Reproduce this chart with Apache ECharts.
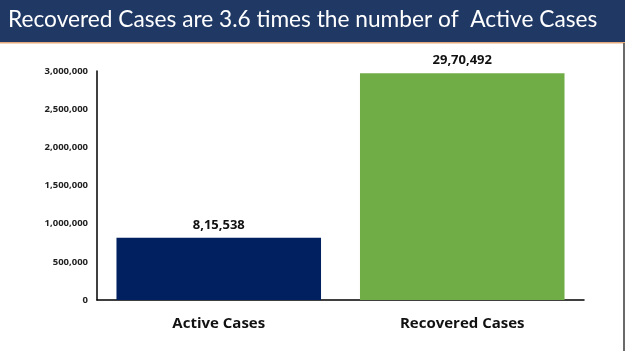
<!DOCTYPE html>
<html>
<head>
<meta charset="utf-8">
<script src="https://cdn.jsdelivr.net/npm/echarts@6/dist/echarts.min.js"></script>
<style>
  html, body { margin: 0; padding: 0; background: #fff; }
  #chart { width: 625px; height: 351px; }
</style>
</head>
<body>
<div id="chart"></div>
<script>
// 数据
const categories = ['Active Cases', 'Recovered Cases']
const caseValues = [815538, 2970492]
const valueLabels = ['8,15,538', '29,70,492']
const barColors = ['#002060', '#70ad47']
const titleText = 'Recovered Cases are 3.6 times the number of  Active Cases'

const myChart = echarts.init(document.getElementById('chart'))

myChart.setOption({
  animation: false,
  // 顶部标题栏
  graphic: [
    {
      type: 'rect',
      left: 0,
      top: 0,
      shape: { width: 625, height: 42 },
      style: { fill: '#1f3864' },
      z: 0
    },
    {
      type: 'rect',
      left: 0,
      top: 42,
      shape: { width: 625, height: 1.5 },
      style: { fill: '#e4a97a' },
      z: 0
    },
    {
      type: 'rect',
      left: 623,
      top: 43,
      shape: { width: 2, height: 308 },
      style: { fill: '#6a6a6a' },
      z: 0
    },
    {
      type: 'text',
      left: 8,
      top: 8,
      style: {
        text: titleText,
        fill: '#ffffff',
        font: '22.7px Lato, "Open Sans", sans-serif'
      },
      z: 1
    }
  ],
  grid: {
    left: 97,
    right: 41,
    top: 71,
    bottom: 51
  },
  xAxis: {
    type: 'category',
    data: categories,
    axisTick: { show: false },
    axisLine: { lineStyle: { color: '#000', width: 1.5 } },
    axisLabel: {
      color: '#111',
      fontSize: 15,
      fontWeight: 'bold',
      fontFamily: '"Open Sans", sans-serif',
      margin: 16
    }
  },
  yAxis: {
    type: 'value',
    min: 0,
    max: 3000000,
    interval: 500000,
    splitLine: { show: false },
    axisTick: { show: false },
    axisLine: { show: true, lineStyle: { color: '#000', width: 1.5 } },
    axisLabel: {
      color: '#222',
      fontSize: 9.5,
      fontWeight: 'bold',
      fontFamily: '"Open Sans", sans-serif',
      margin: 9,
      formatter: (v) => v.toLocaleString('en-US')
    }
  },
  series: [
    {
      type: 'bar',
      barWidth: '84%',
      data: caseValues.map((v, i) => ({
        value: v,
        itemStyle: { color: barColors[i] }
      })),
      label: {
        show: true,
        position: 'top',
        distance: 6,
        color: '#111',
        fontSize: 13,
        fontWeight: 'bold',
        fontFamily: '"Open Sans", sans-serif',
        formatter: (p) => valueLabels[p.dataIndex]
      }
    }
  ]
})
</script>
</body>
</html>
